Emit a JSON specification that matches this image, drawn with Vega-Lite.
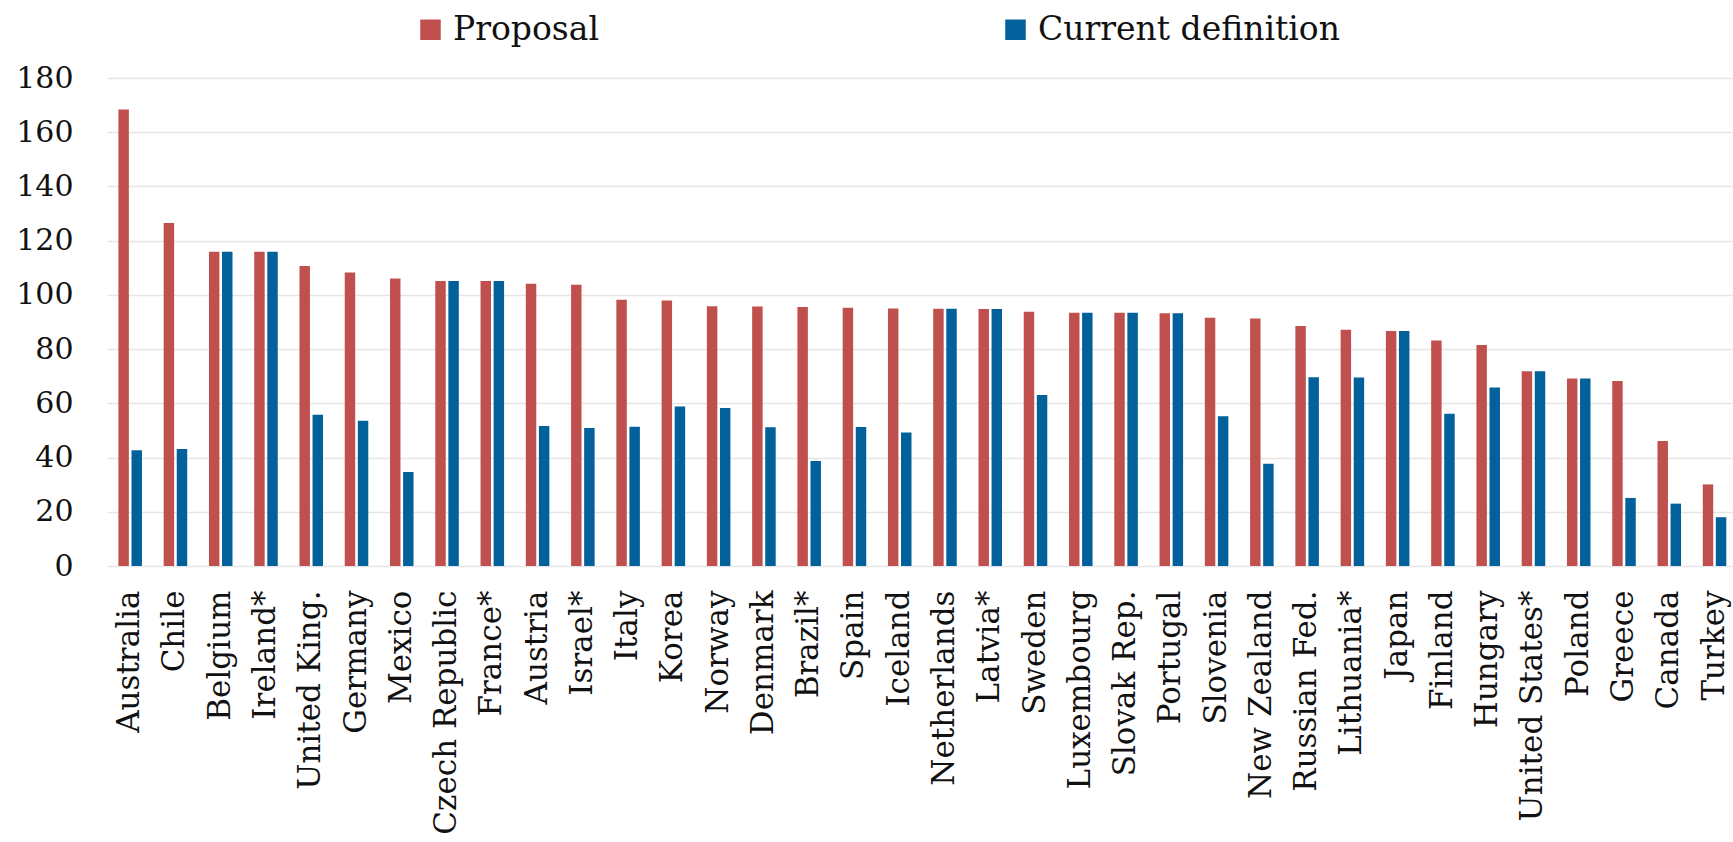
{
  "$schema": "https://vega.github.io/schema/vega-lite/v6.json",
  "autosize": {"type": "none"},
  "padding": {"left": 107, "top": 78, "right": 0, "bottom": 276},
  "width": 1626,
  "height": 488,
  "background": "#ffffff",
  "config": {
    "view": {"stroke": null},
    "font": "DejaVu Serif"
  },
  "data": {
    "values": [
      {"country": "Australia", "series": "Proposal", "value": 168.4},
      {"country": "Australia", "series": "Current definition", "value": 42.7},
      {"country": "Chile", "series": "Proposal", "value": 126.5},
      {"country": "Chile", "series": "Current definition", "value": 43.2},
      {"country": "Belgium", "series": "Proposal", "value": 115.9},
      {"country": "Belgium", "series": "Current definition", "value": 115.9},
      {"country": "Ireland*", "series": "Proposal", "value": 115.9},
      {"country": "Ireland*", "series": "Current definition", "value": 115.9},
      {"country": "United King.", "series": "Proposal", "value": 110.7},
      {"country": "United King.", "series": "Current definition", "value": 55.8},
      {"country": "Germany", "series": "Proposal", "value": 108.3},
      {"country": "Germany", "series": "Current definition", "value": 53.6},
      {"country": "Mexico", "series": "Proposal", "value": 106.0},
      {"country": "Mexico", "series": "Current definition", "value": 34.7},
      {"country": "Czech Republic", "series": "Proposal", "value": 105.1},
      {"country": "Czech Republic", "series": "Current definition", "value": 105.1},
      {"country": "France*", "series": "Proposal", "value": 105.1},
      {"country": "France*", "series": "Current definition", "value": 105.1},
      {"country": "Austria", "series": "Proposal", "value": 104.1},
      {"country": "Austria", "series": "Current definition", "value": 51.6},
      {"country": "Israel*", "series": "Proposal", "value": 103.7},
      {"country": "Israel*", "series": "Current definition", "value": 50.9},
      {"country": "Italy", "series": "Proposal", "value": 98.2},
      {"country": "Italy", "series": "Current definition", "value": 51.4},
      {"country": "Korea", "series": "Proposal", "value": 97.9},
      {"country": "Korea", "series": "Current definition", "value": 58.8},
      {"country": "Norway", "series": "Proposal", "value": 95.8},
      {"country": "Norway", "series": "Current definition", "value": 58.3},
      {"country": "Denmark", "series": "Proposal", "value": 95.7},
      {"country": "Denmark", "series": "Current definition", "value": 51.2},
      {"country": "Brazil*", "series": "Proposal", "value": 95.5},
      {"country": "Brazil*", "series": "Current definition", "value": 38.7},
      {"country": "Spain", "series": "Proposal", "value": 95.3},
      {"country": "Spain", "series": "Current definition", "value": 51.3},
      {"country": "Iceland", "series": "Proposal", "value": 95.0},
      {"country": "Iceland", "series": "Current definition", "value": 49.2},
      {"country": "Netherlands", "series": "Proposal", "value": 94.9},
      {"country": "Netherlands", "series": "Current definition", "value": 94.9},
      {"country": "Latvia*", "series": "Proposal", "value": 94.8},
      {"country": "Latvia*", "series": "Current definition", "value": 94.8},
      {"country": "Sweden", "series": "Proposal", "value": 93.8},
      {"country": "Sweden", "series": "Current definition", "value": 63.1},
      {"country": "Luxembourg", "series": "Proposal", "value": 93.4},
      {"country": "Luxembourg", "series": "Current definition", "value": 93.4},
      {"country": "Slovak Rep.", "series": "Proposal", "value": 93.4},
      {"country": "Slovak Rep.", "series": "Current definition", "value": 93.4},
      {"country": "Portugal", "series": "Proposal", "value": 93.2},
      {"country": "Portugal", "series": "Current definition", "value": 93.2},
      {"country": "Slovenia", "series": "Proposal", "value": 91.6},
      {"country": "Slovenia", "series": "Current definition", "value": 55.2},
      {"country": "New Zealand", "series": "Proposal", "value": 91.3},
      {"country": "New Zealand", "series": "Current definition", "value": 37.7},
      {"country": "Russian Fed.", "series": "Proposal", "value": 88.5},
      {"country": "Russian Fed.", "series": "Current definition", "value": 69.6},
      {"country": "Lithuania*", "series": "Proposal", "value": 87.1},
      {"country": "Lithuania*", "series": "Current definition", "value": 69.5},
      {"country": "Japan", "series": "Proposal", "value": 86.7},
      {"country": "Japan", "series": "Current definition", "value": 86.7},
      {"country": "Finland", "series": "Proposal", "value": 83.2},
      {"country": "Finland", "series": "Current definition", "value": 56.2},
      {"country": "Hungary", "series": "Proposal", "value": 81.5},
      {"country": "Hungary", "series": "Current definition", "value": 65.8},
      {"country": "United States*", "series": "Proposal", "value": 71.8},
      {"country": "United States*", "series": "Current definition", "value": 71.8},
      {"country": "Poland", "series": "Proposal", "value": 69.2},
      {"country": "Poland", "series": "Current definition", "value": 69.2},
      {"country": "Greece", "series": "Proposal", "value": 68.2},
      {"country": "Greece", "series": "Current definition", "value": 25.1},
      {"country": "Canada", "series": "Proposal", "value": 46.1},
      {"country": "Canada", "series": "Current definition", "value": 23.0},
      {"country": "Turkey", "series": "Proposal", "value": 30.1},
      {"country": "Turkey", "series": "Current definition", "value": 18.0}
    ]
  },
  "mark": {"type": "bar"},
  "encoding": {
    "x": {
      "field": "country",
      "type": "nominal",
      "sort": null,
      "title": null,
      "scale": {"paddingInner": 0.48, "paddingOuter": 0.2, "align": 0.63},
      "axis": {
        "labelAngle": -90,
        "labelAlign": "right",
        "labelBaseline": "middle",
        "labelFont": "DejaVu Serif",
        "labelFontSize": 31,
        "labelColor": "#111111",
        "labelPadding": 24,
        "labelLimit": 0,
        "ticks": false,
        "domain": false,
        "grid": false
      }
    },
    "xOffset": {
      "field": "series",
      "type": "nominal",
      "sort": ["Proposal", "Current definition"],
      "scale": {"paddingInner": 0.2, "paddingOuter": 0}
    },
    "y": {
      "field": "value",
      "type": "quantitative",
      "title": null,
      "scale": {"domain": [0, 180], "nice": false},
      "axis": {
        "values": [0, 20, 40, 60, 80, 100, 120, 140, 160, 180],
        "labelFont": "DejaVu Serif",
        "labelFontSize": 30,
        "labelColor": "#111111",
        "labelPadding": 34,
        "ticks": false,
        "domain": false,
        "grid": true,
        "gridColor": "#e5e5e5",
        "gridWidth": 1.5
      }
    },
    "color": {
      "field": "series",
      "type": "nominal",
      "sort": ["Proposal", "Current definition"],
      "scale": {"domain": ["Proposal", "Current definition"], "range": ["#C0504D", "#02619B"]},
      "legend": {
        "title": null,
        "orient": "none",
        "direction": "horizontal",
        "legendX": 307,
        "legendY": -65,
        "padding": 0,
        "symbolType": "square",
        "symbolSize": 420,
        "symbolStrokeWidth": 0,
        "labelFont": "DejaVu Serif",
        "labelFontSize": 33,
        "labelColor": "#111111",
        "labelOffset": 6,
        "labelLimit": 0,
        "columnPadding": 399
      }
    }
  }
}
